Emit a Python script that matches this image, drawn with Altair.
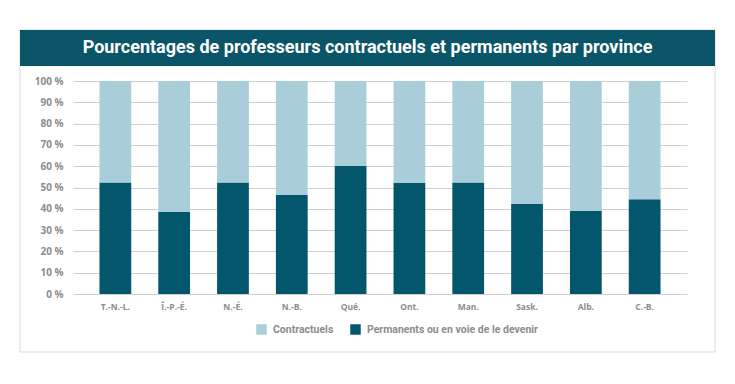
import altair as alt
import pandas as pd

provinces = ["T.-N.-L.", "Î.-P.-É.", "N.-É.", "N.-B.", "Qué.", "Ont.", "Man.", "Sask.", "Alb.", "C.-B."]
permanents = [52.4, 38.6, 52.3, 46.5, 60.2, 52.1, 52.3, 42.3, 39.1, 44.5]
contractuels = [47.6, 61.4, 47.7, 53.5, 39.8, 47.9, 47.7, 57.7, 60.9, 55.5]
series = ["Contractuels", "Permanents ou en voie de le devenir"]
title_text = "Pourcentages de professeurs contractuels et permanents par province"

rows = []
for p, pe, co in zip(provinces, permanents, contractuels):
    rows.append({"province": p, "statut": series[1], "pct": pe, "ord": 0})
    rows.append({"province": p, "statut": series[0], "pct": co, "ord": 1})
df = pd.DataFrame(rows)

LIGHT = "#a9cdd9"
DARK = "#03566b"
GRAY = "#8c8c8c"
FONT = "Open Sans"

bars = alt.Chart(df).mark_bar().encode(
    x=alt.X("province:N", sort=provinces,
            scale=alt.Scale(paddingInner=0.46, paddingOuter=0.45),
            axis=alt.Axis(title=None, labelAngle=0, domain=False, ticks=False,
                          labelPadding=8, labelFontSize=8.5, labelColor=GRAY,
                          labelFont=FONT, labelFontWeight="bold")),
    y=alt.Y("pct:Q", stack="zero",
            scale=alt.Scale(domain=[0, 100], nice=False),
            axis=alt.Axis(title=None, values=list(range(0, 101, 10)),
                          labelExpr="datum.value + ' %'", domain=False, ticks=False,
                          labelPadding=10, labelFontSize=10, labelColor=GRAY,
                          labelFont=FONT, labelFontWeight="bold",
                          gridColor="#cfcfcf", gridWidth=1)),
    color=alt.Color("statut:N",
                    scale=alt.Scale(domain=series, range=[LIGHT, DARK]),
                    legend=alt.Legend(title=None, orient="none", direction="horizontal",
                                      legendX=183, legendY=243,
                                      symbolType="square", symbolSize=110,
                                      symbolStrokeWidth=0, symbolOpacity=1,
                                      labelFontSize=10.5, labelColor=GRAY,
                                      labelFont="Roboto", labelFontWeight="bold",
                                      labelLimit=400,
                                      labelOffset=6, columnPadding=16)),
    order=alt.Order("ord:Q"),
)

one = pd.DataFrame({"k": [0]})

border = alt.Chart(one).mark_rect(fill="transparent", stroke="#d9d9d9", strokeWidth=1).encode(
    x=alt.value(-53), x2=alt.value(642), y=alt.value(-51), y2=alt.value(271))

banner = alt.Chart(one).mark_rect(fill="#0b5568").encode(
    x=alt.value(-53), x2=alt.value(642), y=alt.value(-51), y2=alt.value(-15))

title = alt.Chart(one).mark_text(text=title_text, color="white", font="Roboto",
                                  fontSize=18, fontWeight="bold", align="center",
                                  baseline="middle").encode(
    x=alt.value(294.5), y=alt.value(-33))

chart = alt.layer(border, banner, title, bars).properties(
    width=614, height=213,
    autosize=alt.AutoSizeParams(type="none"),
    padding={"left": 65, "top": 73, "right": 40, "bottom": 80},
).configure_view(stroke=None)

chart.save("out.html", embed_options={"renderer": "svg", "actions": False})
